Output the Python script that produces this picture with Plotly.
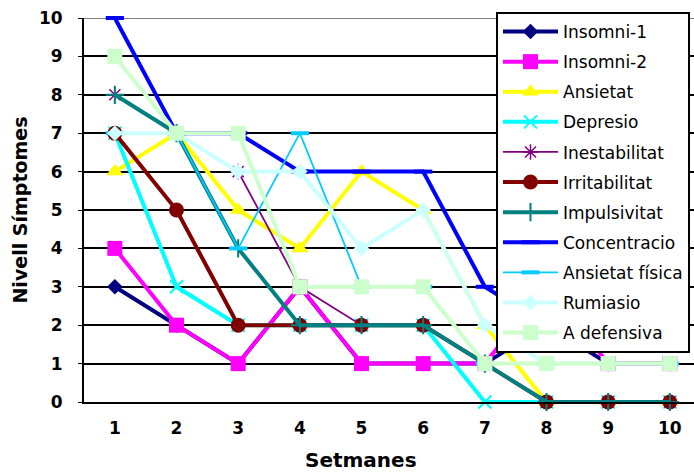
import plotly.graph_objects as go

weeks = [1, 2, 3, 4, 5, 6, 7, 8, 9, 10]
y_ticks = [0, 1, 2, 3, 4, 5, 6, 7, 8, 9, 10]

insomni_1 = [3, 2, 1, 3, 1, 1, 1, 2, 1, 1]
insomni_2 = [4, 2, 1, 3, 1, 1, 1, 3, 1, 1]
ansietat = [6, 7, 5, 4, 6, 5, 2, 0, 0, 0]
depresio = [7, 3, 2, 2, 2, 2, 0, 0, 0, 0]
inestabilitat = [8, 7, 6, 3, 2, 2, 1, 0, 0, 0]
irritabilitat = [7, 5, 2, 2, 2, 2, 1, 0, 0, 0]
impulsivitat = [8, 7, 4, 2, 2, 2, 1, 0, 0, 0]
concentracio = [10, 7, 7, 6, 6, 6, 3, 2, 2, 2]
ansietat_fisica = [7, 7, 4, 7, 3, 3, 1, 1, 1, 1]
rumiasio = [7, 7, 6, 6, 4, 5, 2, 1, 1, 1]
a_defensiva = [9, 7, 7, 3, 3, 3, 1, 1, 1, 1]

series = [
    ("Insomni-1", insomni_1, "#000080", 4, "diamond", 12, 0),
    ("Insomni-2", insomni_2, "#FF00FF", 4, "square", 15, 0),
    ("Ansietat", ansietat, "#FFFF00", 4, "triangle-up", 15, 0),
    ("Depresio", depresio, "#00FFFF", 4, "x-thin-open", 13, 2),
    ("Inestabilitat", inestabilitat, "#800080", 1.8, "asterisk-open", 13, 1.5),
    ("Irritabilitat", irritabilitat, "#800000", 4, "circle", 15, 0),
    ("Impulsivitat", impulsivitat, "#008080", 4, "cross-thin-open", 13, 2),
    ("Concentracio", concentracio, "#0000FF", 4, "line-ew-open", 13, 4),
    ("Ansietat física", ansietat_fisica, "#00CCFF", 1.8, "line-ew-open", 13, 4),
    ("Rumiasio", rumiasio, "#CCFFFF", 4, "diamond", 12, 0),
    ("A defensiva", a_defensiva, "#CCFFCC", 4, "square", 15, 0),
]

fig = go.Figure()
for name, vals, color, lw, sym, ms, mlw in series:
    marker = dict(symbol=sym, size=ms, color=color)
    if mlw:
        marker["line"] = dict(color=color, width=mlw)
    fig.add_trace(go.Scatter(
        x=weeks, y=vals, name=name, mode="lines+markers",
        line=dict(color=color, width=lw), marker=marker,
        cliponaxis=False, legendgroup=name,
    ))

fig.add_shape(type="line", xref="paper", yref="y", x0=0, x1=1, y0=10, y1=10,
              line=dict(color="#808080", width=2), layer="between")

bold = dict(family="DejaVu Sans", size=17, color="black", weight="bold")

fig.update_layout(
    width=694, height=474,
    margin=dict(l=84, r=0, t=18, b=72),
    paper_bgcolor="white", plot_bgcolor="white",
    showlegend=True,
    legend=dict(
        x=(496 - 84) / 610, y=(402 - 12) / 384, xanchor="left", yanchor="top",
        bgcolor="white", bordercolor="black", borderwidth=2,
        font=dict(family="DejaVu Sans", size=17, color="black"),
        tracegroupgap=5, itemwidth=55, maxheight=420,
    ),
    xaxis=dict(
        range=[0.5, 0.5 + 610 / 61.67], tickvals=weeks, ticktext=[str(w) for w in weeks],
        showgrid=False, zeroline=False, showline=True, linecolor="black", linewidth=2,
        ticks="", tickfont=bold, ticklabelstandoff=10,
    ),
    yaxis=dict(
        range=[0, 10], tickvals=y_ticks, showgrid=True, gridcolor="black", gridwidth=1.5,
        zeroline=False, showline=True, linecolor="black", linewidth=2,
        ticks="outside", ticklen=4, tickcolor="black", tickfont=bold, ticklabelstandoff=12,
        title=dict(text="Nivell Símptomes", font=dict(family="DejaVu Sans", size=19, color="black", weight="bold"), standoff=6),
    ),
    annotations=[dict(
        text="Setmanes", xref="paper", yref="paper", x=(361 - 84) / 610, y=-(460 - 402) / 384,
        xanchor="center", yanchor="middle", showarrow=False,
        font=dict(family="DejaVu Sans", size=20, color="black", weight="bold"),
    )],
)

fig.write_html("out.html")
